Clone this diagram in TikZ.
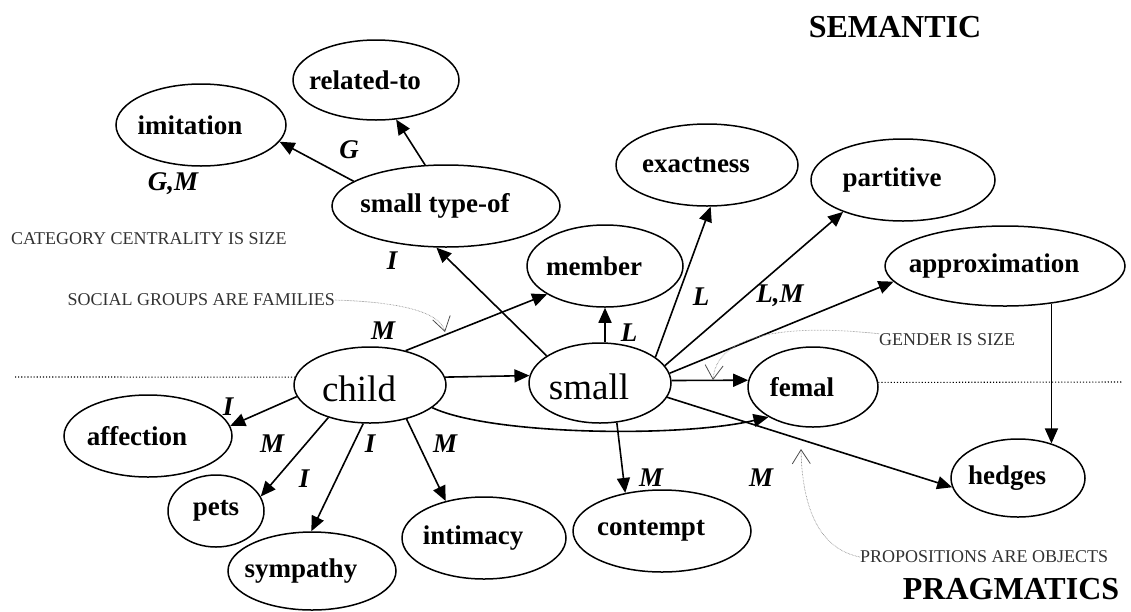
\documentclass[tikz,border=0pt]{standalone}
\usepackage{fontspec}
\setmainfont{Liberation Serif}
\usetikzlibrary{shapes,arrows.meta,positioning,calc}
\definecolor{NoteGray}{RGB}{50, 50, 50}
\definecolor{HintGray}{RGB}{140, 140, 140}

\begin{document}
\begin{tikzpicture}[x=1pt, y=-1pt,
  plainconcept/.style={ellipse, draw, line width=1.5pt, inner sep=0pt,
    font=\fontsize{27}{32}\selectfont\bfseries},
  concept/.style={plainconcept, execute at begin node={\hspace*{-22pt}}},
  core/.style={concept, text height=34pt, font=\fontsize{37}{44}\selectfont},
  link/.style={line width=1.6pt, -{Triangle[length=15pt, width=13pt]}},
  tag/.style={inner sep=0pt, font=\fontsize{27}{32}\selectfont\bfseries\itshape},
  note/.style={inner sep=0pt, text=NoteGray, font=\fontsize{18}{22}\selectfont},
  hint/.style={HintGray, line width=0.7pt, dash pattern=on 0.6pt off 0.9pt,
    -{Straight Barb[length=14pt, width=18pt, line width=0.8pt, color=black!70]}},
  divider/.style={dotted, line width=1.1pt},
  level/.style={inner sep=0pt, font=\fontsize{32}{38}\selectfont\bfseries}]
  \useasboundingbox (0,0) rectangle (1131,611);

  % Levels
  \node[level] (semantic) at (895,27) {SEMANTIC};
  \node[level] (pragmatics) at (1011,589) {PRAGMATICS};

  % Concepts
  \node[concept, minimum width=170pt, minimum height=82pt] (imitation) at (201,125) {imitation};
  \node[concept, minimum width=166pt, minimum height=80pt] (related) at (376,80) {related-to};
  \node[concept, minimum width=228pt, minimum height=82pt] (stype) at (446,206) {small type-of};
  \node[concept, minimum width=156pt, minimum height=82pt] (member) at (605,266) {member};
  \node[concept, minimum width=182pt, minimum height=82pt] (exact) at (707,165) {exactness};
  \node[concept, minimum width=184pt, minimum height=82pt] (partitive) at (903,180) {partitive};
  \node[concept, minimum width=240pt, minimum height=80pt] (approx) at (1005,266) {approximation};
  \node[core, minimum width=152pt, minimum height=76pt] (child) at (370,385) {child};
  \node[core, minimum width=142pt, minimum height=80pt] (small) at (600,383) {small};
  \node[concept, minimum width=130pt, minimum height=80pt] (femal) at (813,387) {femal};
  \node[concept, minimum width=168pt, minimum height=82pt] (affection) at (148,436) {affection};
  \node[plainconcept, minimum width=96pt, minimum height=72pt] (pets) at (216,511) {pets};
  \node[concept, minimum width=168pt, minimum height=78pt] (sympathy) at (312,571) {sympathy};
  \node[concept, minimum width=164pt, minimum height=82pt] (intimacy) at (484,538) {intimacy};
  \node[concept, minimum width=178pt, minimum height=82pt] (contempt) at (662,531) {contempt};
  \node[concept, minimum width=134pt, minimum height=78pt] (hedges) at (1018,478) {hedges};

  % Links
  \draw[link] (stype.165) -- (imitation.-12);
  \draw[link] (stype.117) -- (related.-63);
  \draw[link] (small.153) -- (stype.-103);
  \draw[link] (child.44) -- (member.206);
  \draw[link] (member.south |- small.north) -- (member.south);
  \draw[link] (small.25) -- (exact.-85);
  \draw[link] (small.15) -- (partitive.208);
  \draw[link] (small.8) -- (approx.188);
  \draw[link] (small.2) -- (femal.174);
  \draw[link] (child.6) -- (small.174);
  \draw[link] (child.-20) .. controls (490,435) and (680,438) .. (femal.214);
  \draw[link] (small.-67) -- (contempt.134);
  \draw[link] (small.-12) -- (hedges.188);
  \draw[link] (approx.-39) -- (approx.-39 |- hedges.46);
  \draw[link] (child.189) -- (affection.7);
  \draw[link] (child.218) -- (pets.18);
  \draw[link] (child.260) -- (sympathy.91);
  \draw[link] (child.-43) -- (intimacy.136);

  % Link tags
  \node[tag] (gm) at (173,184) {G,M};
  \node[tag] (g) at (349,150) {G};
  \node[tag] (itype) at (392,261) {I};
  \node[tag] (mmember) at (383,331) {M};
  \node[tag] (lmember) at (629,333) {L};
  \node[tag] (lexact) at (701,297) {L};
  \node[tag] (lmpart) at (780,296) {L,M};
  \node[tag] (iaff) at (228,407) {I};
  \node[tag] (mpets) at (272,444) {M};
  \node[tag] (ipets) at (304,479) {I};
  \node[tag] (isym) at (370,444) {I};
  \node[tag] (mint) at (445,444) {M};
  \node[tag] (mcont) at (651,478) {M};
  \node[tag] (mhedge) at (761,478) {M};

  % Metaphors
  \node[note, anchor=west] (category) at (11,239) {CATEGORY CENTRALITY IS SIZE};
  \node[note, anchor=east] (social) at (335,300) {SOCIAL GROUPS ARE FAMILIES};
  \node[note, anchor=west] (gender) at (879,340) {GENDER IS SIZE};
  \node[note, anchor=west] (props) at (860,557) {PROPOSITIONS ARE OBJECTS};
  \coordinate (socialtip) at (445,332);
  \coordinate (gendertip) at (713,380);
  \coordinate (propstip) at (801,449);
  \draw[hint] (social.east) .. controls (400,302) and (440,312) .. (socialtip);
  \draw[hint] (gender.north west) .. controls (770,322) and (716,340) .. (gendertip);
  \draw[hint] (props.west) .. controls (815,548) and (802,500) .. (propstip);

  % Divider
  \draw[divider] (15,377) -- (child.174);
  \draw[divider] (femal.4) -- (1123,382);
\end{tikzpicture}
\end{document}
